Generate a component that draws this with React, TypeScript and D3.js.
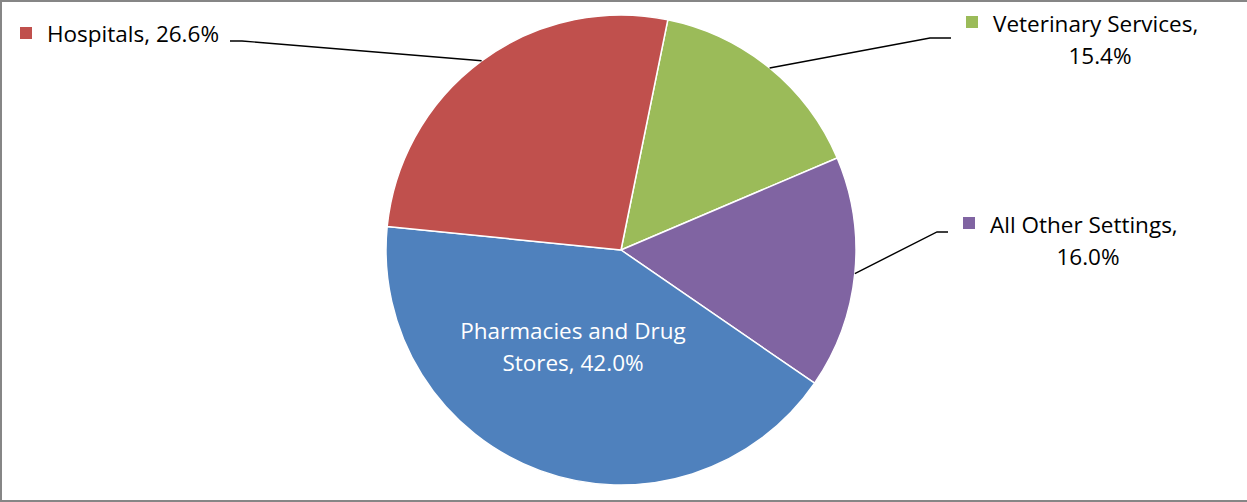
import React, { useEffect, useRef } from 'react';
import * as d3 from 'd3';

// Slices in clockwise order from the start angle
const categories = ['Veterinary Services', 'All Other Settings', 'Pharmacies and Drug Stores', 'Hospitals'];
const shares = [15.4, 16.0, 42.0, 26.6];
const colors = ['#9BBB59', '#8064A2', '#4F81BD', '#C0504D'];

const W = 1247;
const H = 502;
const cx = 621;
const cy = 250;
const R = 235;
const startDeg = 11.5;
const font = '"Open Sans", Lato, sans-serif';
const fontSize = 22.5;

interface Slice {
  name: string;
  value: number;
  color: string;
}

const App = () => {
  const ref = useRef<SVGSVGElement | null>(null);

  useEffect(() => {
    const svg = d3.select(ref.current);
    svg.selectAll('*').remove();

    const data: Slice[] = categories.map((c, i) => ({ name: c, value: shares[i], color: colors[i] }));

    // chart frame
    svg
      .append('rect')
      .attr('x', 1)
      .attr('y', 1)
      .attr('width', W + 10)
      .attr('height', H - 2)
      .attr('fill', '#fff')
      .attr('stroke', '#868686')
      .attr('stroke-width', 2);

    const start = (startDeg * Math.PI) / 180;
    const pie = d3
      .pie<Slice>()
      .sort(null)
      .value((d) => d.value)
      .startAngle(start)
      .endAngle(start + 2 * Math.PI);
    const arcs = pie(data);
    const arc = d3.arc<d3.PieArcDatum<Slice>>().innerRadius(0).outerRadius(R);

    const g = svg.append('g').attr('transform', `translate(${cx},${cy})`);
    g.selectAll('path')
      .data(arcs)
      .enter()
      .append('path')
      .attr('d', arc)
      .attr('fill', (d) => d.data.color)
      .attr('stroke', '#fff')
      .attr('stroke-width', 1.5)
      .attr('stroke-linejoin', 'round');

    // leader elbow points, legend marker and text lines per outside label
    const labels: Record<string, any> = {
      Hospitals: {
        leader: [[242, 41], [230, 41]],
        marker: [20, 27],
        lines: [{ t: 'Hospitals, 26.6%', x: 47, y: 42, anchor: 'start' }],
      },
      'Veterinary Services': {
        leader: [[930, 38], [951, 38]],
        marker: [966, 16],
        lines: [
          { t: 'Veterinary Services,', x: 993, y: 32, anchor: 'start' },
          { t: '15.4%', x: 1100, y: 64, anchor: 'middle' },
        ],
      },
      'All Other Settings': {
        leader: [[937, 232], [948, 232]],
        marker: [963, 217],
        lines: [
          { t: 'All Other Settings,', x: 990, y: 233, anchor: 'start' },
          { t: '16.0%', x: 1088, y: 265, anchor: 'middle' },
        ],
      },
    };

    arcs.forEach((a) => {
      const lab = labels[a.data.name];
      if (lab) {
        const mid = (a.startAngle + a.endAngle) / 2;
        const px = cx + R * Math.sin(mid);
        const py = cy - R * Math.cos(mid);
        const pts: [number, number][] = [[px, py], ...lab.leader];
        svg
          .append('path')
          .attr('d', d3.line()(pts))
          .attr('fill', 'none')
          .attr('stroke', '#000')
          .attr('stroke-width', 1.4);
        svg
          .append('rect')
          .attr('x', lab.marker[0])
          .attr('y', lab.marker[1])
          .attr('width', 12)
          .attr('height', 12)
          .attr('fill', a.data.color);
        lab.lines.forEach((l: any) => {
          svg
            .append('text')
            .attr('x', l.x)
            .attr('y', l.y)
            .attr('text-anchor', l.anchor)
            .attr('font-family', font)
            .attr('font-size', fontSize)
            .attr('fill', '#000')
            .text(l.t);
        });
      } else {
        // label drawn inside the slice
        [
          { t: 'Pharmacies and Drug', y: 339 },
          { t: 'Stores, 42.0%', y: 371 },
        ].forEach((l) => {
          svg
            .append('text')
            .attr('x', 573)
            .attr('y', l.y)
            .attr('text-anchor', 'middle')
            .attr('font-family', font)
            .attr('font-size', fontSize)
            .attr('fill', '#fff')
            .text(l.t);
        });
      }
    });
  }, []);

  return (
    <div style={{ position: 'absolute', left: 0, top: 0 }}>
      <svg ref={ref} width={W} height={H} style={{ display: 'block' }} />
    </div>
  );
};

export default App;
